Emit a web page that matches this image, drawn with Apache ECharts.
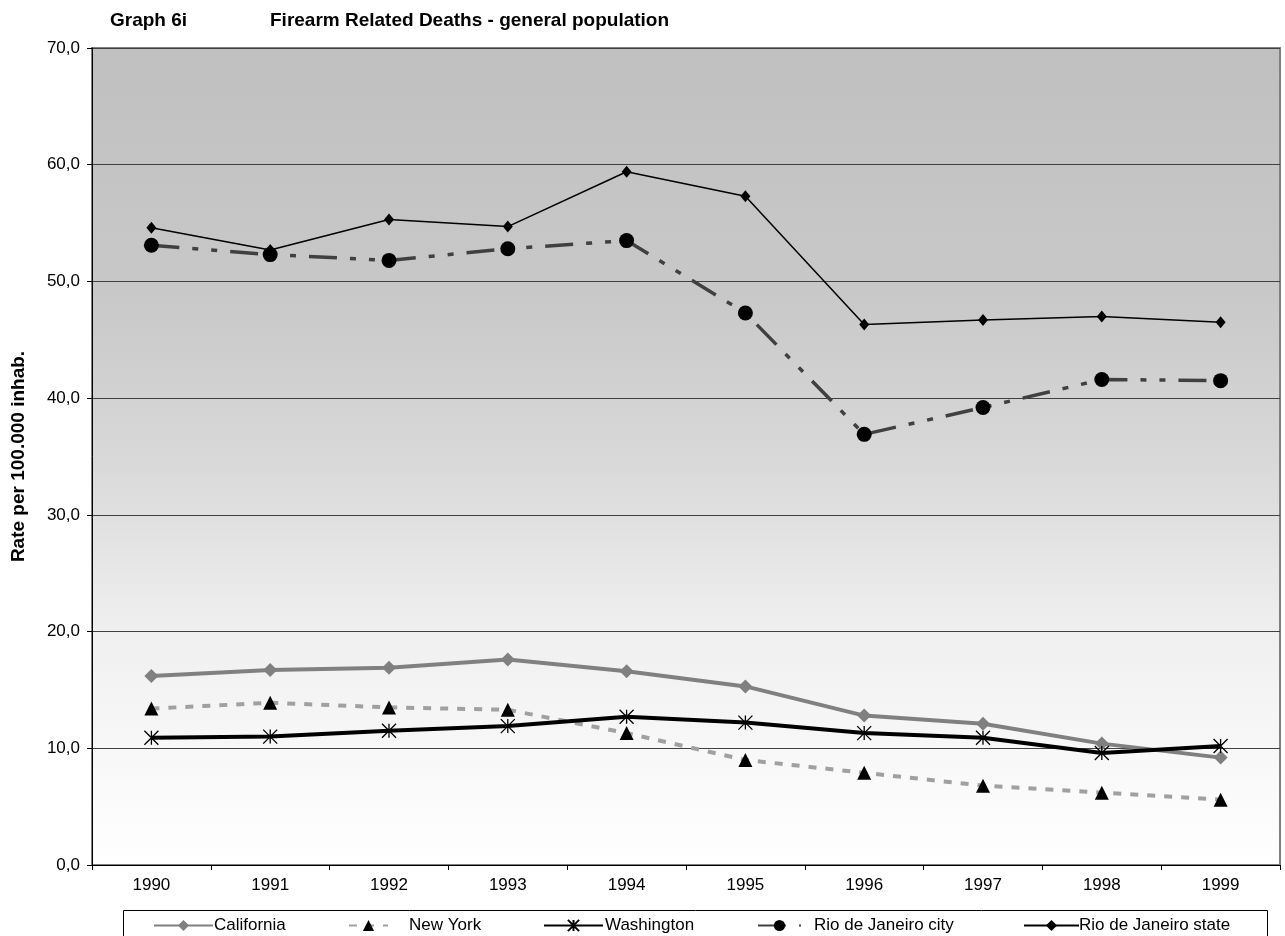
<!DOCTYPE html>
<html><head><meta charset="utf-8">
<script src="https://cdn.jsdelivr.net/npm/echarts@6/dist/echarts.min.js"></script>
<style>html,body{margin:0;padding:0;background:#fff}#c{width:1285px;height:936px}</style>
</head><body><div id="c"></div>
<script>
const years = ['1990','1991','1992','1993','1994','1995','1996','1997','1998','1999'];
const california = [16.2,16.7,16.9,17.6,16.6,15.3,12.8,12.1,10.4,9.2];
const newYork = [13.4,13.9,13.5,13.3,11.3,9.0,7.9,6.8,6.2,5.6];
const washington = [10.9,11.0,11.5,11.9,12.7,12.2,11.3,10.9,9.6,10.2];
const rioCity = [53.1,52.3,51.8,52.8,53.5,47.3,36.9,39.2,41.6,41.5];
const rioState = [54.6,52.7,55.3,54.7,59.4,57.3,46.3,46.7,47.0,46.5];
const seriesNames = ['California','New York','Washington','Rio de Janeiro city','Rio de Janeiro state'];

const F = 'Arial, "Liberation Sans", sans-serif';
const FS = 17;
const chart = echarts.init(document.getElementById('c'), null, {renderer:'canvas'});
const star = 'path://M0,0 L10,10 M10,0 L0,10 M5,0 L5,10';
const legendLeft = [153, 348, 543, 757, 1023];
const legendW = [59, 39, 59, 43, 55];
const legendPad = [-4, 16, -3, 8, -5];
chart.setOption({
  animation:false,
  graphic:[
    {type:'text', x:110, y:21, style:{text:'Graph 6i', font:'bold 19px '+F, fill:'#000', verticalAlign:'middle'}},
    {type:'text', x:270, y:21, style:{text:'Firearm Related Deaths - general population', font:'bold 19px '+F, fill:'#000', verticalAlign:'middle'}},
    {type:'rect', shape:{x:123.5,y:910.5,width:1144,height:40}, style:{fill:'none', stroke:'#000', lineWidth:1}, z:-1}
  ],
  grid:{left:92, right:5, top:48, bottom:71, show:true, borderColor:'#808080', borderWidth:2,
    backgroundColor:{type:'linear',x:0,y:0,x2:0,y2:1,colorStops:[
      {offset:0,color:'#c0c0c0'},{offset:0.3,color:'#c8c8c8'},{offset:0.5,color:'#d8d8d8'},{offset:0.72,color:'#f0f0f0'},{offset:1,color:'#ffffff'}]}},
  legend: seriesNames.map((n,i)=>({data:[n], left:legendLeft[i], top:917, padding:0, itemWidth:legendW[i], itemHeight:14, itemGap:0,
    textStyle:{fontFamily:F, fontSize:FS, color:'#000', padding:[0,0,0,legendPad[i]]}})),
  xAxis:{type:'category', data:years, boundaryGap:true,
    axisLine:{lineStyle:{color:'#000', width:1}},
    axisTick:{show:true, length:5, lineStyle:{color:'#000'}},
    axisLabel:{fontFamily:F, fontSize:FS, color:'#000', margin:12}},
  yAxis:{type:'value', min:0, max:70, interval:10,
    name:'Rate per 100.000 inhab.', nameLocation:'middle', nameGap:64, nameRotate:90,
    nameTextStyle:{fontFamily:F, fontSize:19, fontWeight:'bold', color:'#000'},
    axisLine:{show:true, lineStyle:{color:'#000', width:1}},
    axisTick:{show:true, length:5, lineStyle:{color:'#000'}},
    axisLabel:{fontFamily:F, fontSize:FS, color:'#000', margin:12, formatter:v=>v.toFixed(1).replace('.',',')},
    splitLine:{lineStyle:{color:'#404040', width:1}}},
  series:[
    {name:'California', type:'line', data:california, symbol:'diamond', symbolSize:14,
      lineStyle:{color:'#808080', width:4}, itemStyle:{color:'#808080'}},
    {name:'New York', type:'line', data:newYork, symbol:'triangle', symbolSize:14,
      lineStyle:{color:'#a0a0a0', width:4, type:[8,9]}, itemStyle:{color:'#000'}},
    {name:'Washington', type:'line', data:washington, symbol:star, symbolSize:14,
      lineStyle:{color:'#000', width:4}, itemStyle:{color:'none', borderColor:'#000', borderWidth:1.3}},
    {name:'Rio de Janeiro city', type:'line', data:rioCity, symbol:'circle', symbolSize:15,
      lineStyle:{color:'#404040', width:3.5, type:[28,13,6,13,6,13]}, itemStyle:{color:'#000'}},
    {name:'Rio de Janeiro state', type:'line', data:rioState, symbol:'diamond', symbolSize:[10,12],
      lineStyle:{color:'#000', width:1.5}, itemStyle:{color:'#000'}}
  ]
});
</script></body></html>
